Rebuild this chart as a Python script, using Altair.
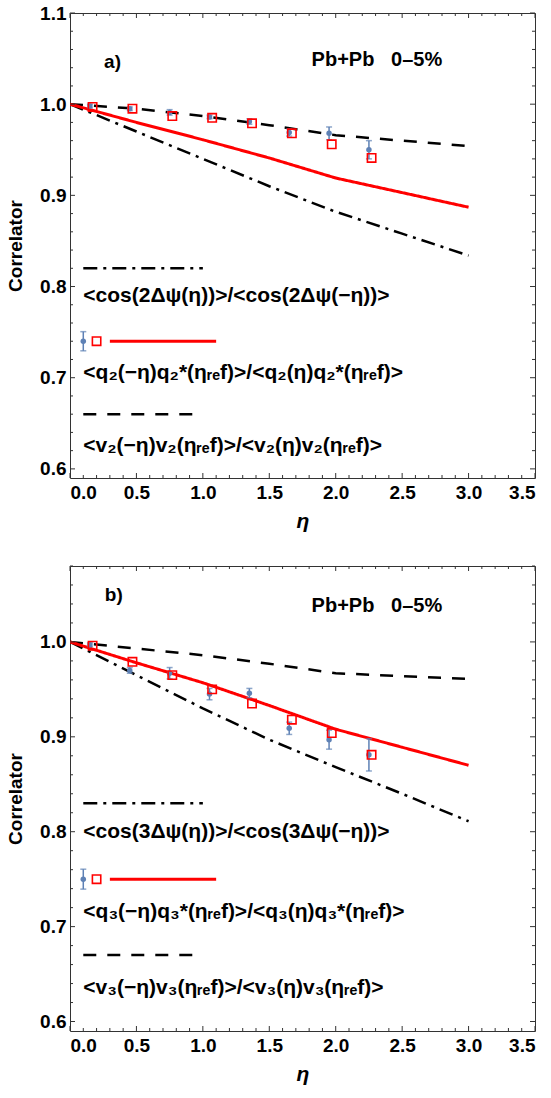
import altair as alt
import pandas as pd

FONT = "Liberation Sans"
BLUE = "#5E81B5"
RED = "#FF0000"
FRAME = "#333333"

# ---------------- data ----------------
line_eta = [0.0, 0.5, 1.0, 1.5, 2.0, 2.5, 3.0]

# panel a (n = 2)
a_red = [1.0, 0.980, 0.961, 0.941, 0.919, 0.903, 0.887]
a_dash = [1.0, 0.995, 0.987, 0.977, 0.966, 0.960, 0.954]
a_dashdot = [1.0, 0.970, 0.940, 0.910, 0.882, 0.858, 0.834]
a_pt_eta = [0.15, 0.45, 0.75, 1.05, 1.35, 1.65, 1.95, 2.25]
a_pt_val = [0.998, 0.995, 0.991, 0.986, 0.981, 0.969, 0.968, 0.950]
a_pt_err = [0.002, 0.002, 0.003, 0.002, 0.003, 0.004, 0.007, 0.010]
a_sq_eta = [0.17, 0.47, 0.77, 1.07, 1.37, 1.67, 1.97, 2.27]
a_sq_val = [0.997, 0.995, 0.987, 0.985, 0.979, 0.968, 0.956, 0.941]

# panel b (n = 3)
b_red = [1.0, 0.978, 0.957, 0.933, 0.908, 0.889, 0.870]
b_dash = [1.0, 0.993, 0.986, 0.977, 0.967, 0.964, 0.961]
b_dashdot = [1.0, 0.965, 0.930, 0.897, 0.868, 0.840, 0.811]
b_pt_eta = [0.15, 0.45, 0.75, 1.05, 1.35, 1.65, 1.95, 2.25]
b_pt_val = [0.997, 0.970, 0.967, 0.945, 0.946, 0.909, 0.897, 0.881]
b_pt_err = [0.002, 0.003, 0.006, 0.006, 0.005, 0.0065, 0.010, 0.017]
b_sq_eta = [0.17, 0.47, 0.77, 1.07, 1.37, 1.67, 1.97, 2.27]
b_sq_val = [0.996, 0.979, 0.965, 0.950, 0.935, 0.918, 0.904, 0.881]

# legends (in data units)
a_leg_lines_y = [0.82, 0.74, 0.66]
a_leg_text_y = [0.79, 0.705, 0.625]
b_leg_lines_y = [0.83, 0.75, 0.67]
b_leg_text_y = [0.80, 0.715, 0.635]
leg_line_x = [0.1, 1.0]
leg_red_x = [0.3, 1.1]
leg_dot_x = 0.1
leg_sq_x = 0.2
leg_err = 0.0105

a_texts = ["<cos(2Δψ(η))>/<cos(2Δψ(−η))>",
           "<q₂(−η)q₂*(ηᵣₑf)>/<q₂(η)q₂*(ηᵣₑf)>",
           "<v₂(−η)v₂(ηᵣₑf)>/<v₂(η)v₂(ηᵣₑf)>"]
b_texts = ["<cos(3Δψ(η))>/<cos(3Δψ(−η))>",
           "<q₃(−η)q₃*(ηᵣₑf)>/<q₃(η)q₃*(ηᵣₑf)>",
           "<v₃(−η)v₃(ηᵣₑf)>/<v₃(η)v₃(ηᵣₑf)>"]

a_label = ("a)", 0.32, 1.046)
b_label = ("b)", 0.33, 1.049)
a_sys = ("Pb+Pb\u00a0\u00a0\u00a00–5%", 2.31, 1.048)
b_sys = ("Pb+Pb\u00a0\u00a0\u00a00–5%", 2.31, 1.038)

x_major = [0.0, 0.5, 1.0, 1.5, 2.0, 2.5, 3.0, 3.5]
x_minor = [round(i * 0.1, 2) for i in range(36) if i % 5 != 0]

W = 465
H = 465
TXT = 19
LEG = 21
ANN = 20


def panel(ydom, y_major, red, dash, dashdot, pe, pv, perr, se, sv,
          leg_lines_y, leg_text_y, texts, lab, sysl, title_pad):
    y_minor = [round(v, 3) for v in
               [y_major[0] + 0.02 * i for i in range(int(round((ydom[1] - y_major[0]) / 0.02)) + 1)]
               if round(v, 3) <= ydom[1] and abs(round(v * 10, 3) - round(v * 10)) > 1e-6]
    xs = alt.Scale(domain=[0, 3.5], nice=False, zero=False)
    ys = alt.Scale(domain=ydom, nice=False, zero=False)
    xaxis = alt.Axis(values=x_major, format=".1f", ticks=False, tickSize=0, domain=False,
                     grid=False, labelFont=FONT, labelFontSize=TXT, labelFontWeight="bold",
                     labelColor="black", labelPadding=5, title="η", titleFont=FONT,
                     titleFontSize=21, titleFontWeight="bold", titleFontStyle="italic",
                     titleColor="black", titlePadding=8)
    yaxis = alt.Axis(values=y_major, format=".1f", ticks=False, tickSize=0, domain=False,
                     grid=False, labelFont=FONT, labelFontSize=TXT, labelFontWeight="bold",
                     labelColor="black", labelPadding=4, title="Correlator", titleFont=FONT,
                     titleFontSize=TXT, titleFontWeight="bold", titleColor="black",
                     titlePadding=title_pad)

    def X(f):
        return alt.X(f, type="quantitative", scale=xs, axis=xaxis)

    def Y(f):
        return alt.Y(f, type="quantitative", scale=ys, axis=yaxis)

    layers = []
    # curves
    for vals, dashp, col, sw in [(dashdot, [14, 6, 3, 6], "black", 2.5),
                                 (dash, [13, 11], "black", 2.5),
                                 (red, [1, 0], RED, 3)]:
        df = pd.DataFrame({"eta": line_eta, "v": vals})
        m = alt.Chart(df).mark_line(color=col, strokeWidth=sw, strokeDash=dashp, clip=True)
        layers.append(m.encode(x=X("eta"), y=Y("v")))

    # legend lines
    for yv, dashp, col, xr in [(leg_lines_y[0], [14, 6, 3, 6], "black", leg_line_x),
                               (leg_lines_y[2], [13, 11], "black", leg_line_x),
                               (leg_lines_y[1], [1, 0], RED, leg_red_x)]:
        df = pd.DataFrame({"eta": xr, "v": [yv, yv]})
        sw = 3 if col == RED else 2.5
        layers.append(alt.Chart(df).mark_line(color=col, strokeWidth=sw, strokeDash=dashp)
                      .encode(x=X("eta"), y=Y("v")))

    # data points with error bars
    pts = pd.DataFrame({"eta": pe + [leg_dot_x], "v": pv + [leg_lines_y[1]],
                        "err": perr + [leg_err]})
    pts["lo"] = pts["v"] - pts["err"]
    pts["hi"] = pts["v"] + pts["err"]
    base = alt.Chart(pts)
    layers.append(base.mark_rule(color=BLUE, strokeWidth=1.5).encode(
        x=X("eta"), y=Y("lo"), y2="hi"))
    layers.append(base.mark_tick(color=BLUE, orient="horizontal", size=6, thickness=1.5)
                  .encode(x=X("eta"), y=Y("lo")))
    layers.append(base.mark_tick(color=BLUE, orient="horizontal", size=6, thickness=1.5)
                  .encode(x=X("eta"), y=Y("hi")))
    layers.append(base.mark_point(color=BLUE, filled=True, opacity=1, size=30, shape="circle")
                  .encode(x=X("eta"), y=Y("v")))

    sq = pd.DataFrame({"eta": se + [leg_sq_x], "v": sv + [leg_lines_y[1]]})
    layers.append(alt.Chart(sq).mark_point(shape="square", filled=False, color=RED,
                                            strokeWidth=1.6, size=70, opacity=1)
                  .encode(x=X("eta"), y=Y("v")))

    # legend texts
    tdf = pd.DataFrame({"eta": [leg_line_x[0]] * 3, "v": leg_text_y, "t": texts})
    layers.append(alt.Chart(tdf).mark_text(align="left", baseline="middle", font=FONT,
                                           fontSize=LEG, fontWeight="bold", color="black")
                  .encode(x=X("eta"), y=Y("v"), text="t:N"))

    # annotations
    adf = pd.DataFrame({"eta": [lab[1]], "v": [lab[2]], "t": [lab[0]]})
    layers.append(alt.Chart(adf).mark_text(align="center", baseline="middle", font=FONT,
                                           fontSize=TXT, fontWeight="bold", color="black")
                  .encode(x=X("eta"), y=Y("v"), text="t:N"))
    sdf = pd.DataFrame({"eta": [sysl[1]], "v": [sysl[2]], "t": [sysl[0]]})
    layers.append(alt.Chart(sdf).mark_text(align="center", baseline="middle", font=FONT,
                                           fontSize=ANN, fontWeight="bold", color="black")
                  .encode(x=X("eta"), y=Y("v"), text="t:N"))

    # frame ticks (inward)
    for vals, L in [(x_major, 5), (x_minor, 3)]:
        df = pd.DataFrame({"t": vals})
        b = alt.Chart(df).mark_rule(color=FRAME, strokeWidth=1)
        layers.append(b.encode(x=X("t"), y=alt.value(H), y2=alt.value(H - L)))
        layers.append(b.encode(x=X("t"), y=alt.value(0), y2=alt.value(L)))
    for vals, L in [(y_major, 5), (y_minor, 3)]:
        df = pd.DataFrame({"t": vals})
        b = alt.Chart(df).mark_rule(color=FRAME, strokeWidth=1)
        layers.append(b.encode(y=Y("t"), x=alt.value(0), x2=alt.value(L)))
        layers.append(b.encode(y=Y("t"), x=alt.value(W), x2=alt.value(W - L)))

    return alt.layer(*layers).properties(width=W, height=H)


pa = panel([0.59, 1.1], [0.6, 0.7, 0.8, 0.9, 1.0, 1.1], a_red, a_dash, a_dashdot,
           a_pt_eta, a_pt_val, a_pt_err, a_sq_eta, a_sq_val,
           a_leg_lines_y, a_leg_text_y, a_texts, a_label, a_sys, 14)
pb = panel([0.59, 1.08], [0.6, 0.7, 0.8, 0.9, 1.0], b_red, b_dash, b_dashdot,
           b_pt_eta, b_pt_val, b_pt_err, b_sq_eta, b_sq_val,
           b_leg_lines_y, b_leg_text_y, b_texts, b_label, b_sys, 14)

chart = alt.vconcat(pa, pb, spacing=33).properties(
    padding={"left": 6, "top": 3, "right": 0, "bottom": 0},
    background="white",
).configure_view(stroke=FRAME, strokeWidth=1)

chart.save("out.html", embed_options={"renderer": "svg", "actions": False})
